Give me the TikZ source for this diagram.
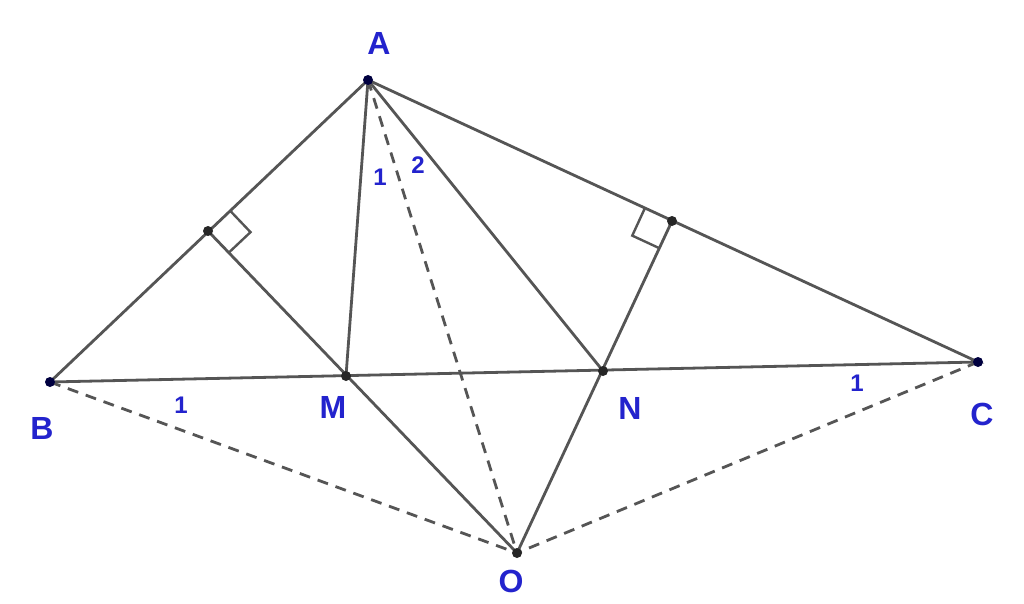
\documentclass[tikz,border=0pt]{standalone}
\usepackage{fontspec}
\setmainfont{Liberation Sans}
\usetikzlibrary{calc}
\definecolor{lbl}{RGB}{35,35,205}
\definecolor{seg}{RGB}{85,85,85}
\tikzset{
  seg/.style={draw=seg, line width=2.8pt},
  dsh/.style={draw=seg, line width=2.8pt, dash pattern=on 11pt off 8pt},
  bpt/.style={circle, fill=black!75!blue, inner sep=0pt, minimum size=10pt},
  kpt/.style={circle, fill=black!85, inner sep=0pt, minimum size=10pt},
  lab/.style={text=lbl, font=\fontsize{32}{34}\selectfont\bfseries},
  num/.style={text=lbl, font=\fontsize{24}{26}\selectfont\bfseries},
}
\begin{document}
\begin{tikzpicture}[x=1pt,y=-1pt]
\useasboundingbox (0,0) rectangle (1024,604);
\fill[white] (0,0) rectangle (1024,604);
\coordinate (A) at (368,80);
\coordinate (B) at (50,382);
\coordinate (C) at (978,362);
\coordinate (M) at (346,376);
\coordinate (N) at (603,371);
\coordinate (O) at (517,553);
\coordinate (H) at (208,231);
\coordinate (K) at (672,221);
% right angle helper points
\coordinate (H1) at ($(H)!30pt!(A)$);
\coordinate (H3) at ($(H)!30pt!(M)$);
\coordinate (H2) at ($(H1)+(H3)-(H)$);
\coordinate (K1) at ($(K)!30pt!(A)$);
\coordinate (K3) at ($(K)!30pt!(N)$);
\coordinate (K2) at ($(K1)+(K3)-(K)$);
% dashed
\draw[dsh] (B) -- (O);
\draw[dsh] (C) -- (O);
\draw[dsh] (A) -- (O);
% solid
\draw[seg] (A) -- (B) -- (C) -- cycle;
\draw[seg] (A) -- (M);
\draw[seg] (A) -- (N);
\draw[seg] (H) -- (O);
\draw[seg] (K) -- (O);
% right angle marks
\draw[seg, line width=2.4pt] (H1) -- (H2) -- (H3);
\draw[seg, line width=2.4pt] (K1) -- (K2) -- (K3);
% points
\node[bpt] (pA) at (A) {};
\node[bpt] (pB) at (B) {};
\node[bpt] (pC) at (C) {};
\node[kpt] (pM) at (M) {};
\node[kpt] (pN) at (N) {};
\node[kpt] (pO) at (O) {};
\node[kpt] (pH) at (H) {};
\node[kpt] (pK) at (K) {};
% labels
\node[lab] (lA) at (379,43) {A};
\node[lab] (lB) at (42,428) {B};
\node[lab] (lC) at (982,414) {C};
\node[lab] (lM) at (333,407) {M};
\node[lab] (lN) at (630,408) {N};
\node[lab] (lO) at (511,581) {O};
\node[num] (n1) at (380,177) {1};
\node[num] (n2) at (418,165) {2};
\node[num] (n3) at (181,405) {1};
\node[num] (n4) at (857,383) {1};
\end{tikzpicture}
\end{document}
